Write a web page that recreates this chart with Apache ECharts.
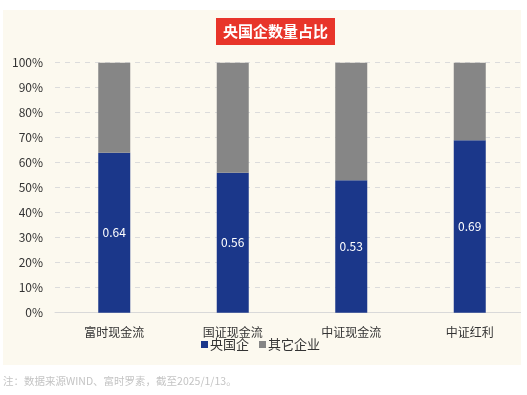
<!DOCTYPE html>
<html><head><meta charset="utf-8">
<script src="https://cdn.jsdelivr.net/npm/echarts@6/dist/echarts.min.js"></script>
<style>html,body{margin:0;padding:0;background:#fff;width:527px;height:395px;overflow:hidden}
#c{position:absolute;left:0;top:0;width:521px;height:395px}</style>
</head><body><div id="c"></div>
<script>
const categories = ['富时现金流','国证现金流','中证现金流','中证红利'];
const soeValues = [0.64, 0.56, 0.53, 0.69];
const otherValues = [0.36, 0.44, 0.47, 0.31];
const seriesNames = ['央国企','其它企业'];
const titleText = '央国企数量占比';
const noteText = '注：数据来源WIND、富时罗素，截至2025/1/13。';

const font = '"Noto Sans CJK SC","Noto Sans",sans-serif';
const chart = echarts.init(document.getElementById('c'), null, {renderer:'canvas'});
chart.setOption({
  animation:false,
  textStyle:{fontFamily:font},
  graphic:[
    {type:'rect', z:-10, shape:{x:3,y:10,width:518,height:355}, style:{fill:'#fcf9ef'}},
    {type:'rect', shape:{x:216,y:18,width:119,height:27}, style:{fill:'#e8352a'}},
    {type:'text', x:275.5, y:31.5, style:{text:titleText, fill:'#fff', font:'bold 15px '+font, textAlign:'center', textVerticalAlign:'middle'}},
    {type:'text', x:3, y:381, style:{text:noteText, fill:'#c4c4c4', font:'10.5px '+font, textVerticalAlign:'middle'}}
  ],
  legend:{
    data:seriesNames, top:333, left:'center', icon:'rect', itemWidth:7, itemHeight:7, itemGap:10,
    textStyle:{fontSize:13, color:'#333', fontFamily:font, padding:[0,0,0,-3]}
  },
  grid:{left:55, width:474, top:62.7, bottom:82.3, containLabel:false, outerBoundsMode:'none'},
  xAxis:{
    type:'category', data:categories,
    axisLine:{lineStyle:{color:'#d9d9d9', width:1}},
    axisTick:{show:false},
    axisLabel:{color:'#333', fontSize:12, margin:14, fontFamily:font}
  },
  yAxis:{
    type:'value', min:0, max:1, interval:0.1,
    axisLine:{show:false}, axisTick:{show:false},
    axisLabel:{color:'#333', fontSize:12, margin:12, fontFamily:font,
      formatter:v=>Math.round(v*100)+'%'},
    splitLine:{lineStyle:{color:'#dcdcdc', type:[5,5], width:1}}
  },
  series:[
    {name:seriesNames[0], type:'bar', stack:'s', data:soeValues, barWidth:32,
     itemStyle:{color:'#1b378a'},
     label:{show:true, position:'inside', color:'#fff', fontSize:12, fontFamily:font, formatter:p=>p.value.toFixed(2)}},
    {name:seriesNames[1], type:'bar', stack:'s', data:otherValues, barWidth:32,
     itemStyle:{color:'#868686'}}
  ]
});
</script></body></html>
